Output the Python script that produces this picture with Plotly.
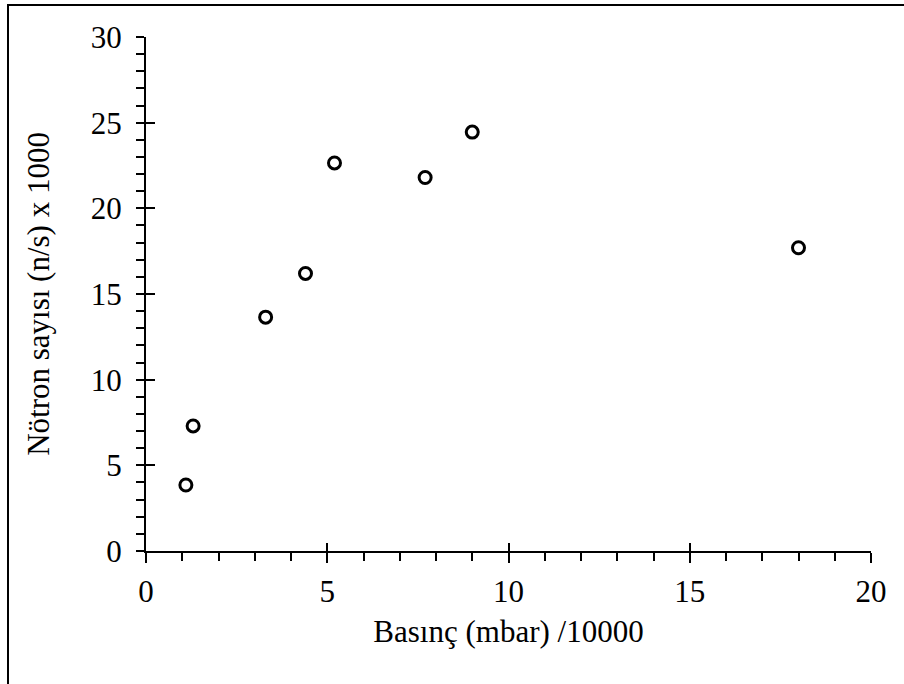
import plotly.graph_objects as go

# Data
pressure = [1.1, 1.3, 3.3, 4.4, 5.2, 7.7, 9.0, 18.0]
neutrons = [3.85, 7.3, 13.65, 16.2, 22.65, 21.8, 24.45, 17.7]

x_title = "Basınç (mbar) /10000"
y_title = "Nötron sayısı (n/s) x 1000"

W, H = 904, 684
ml, mr, mt, mb = 146, 33, 37, 133
pw, ph = W - ml - mr, H - mt - mb

FONT = "Liberation Serif"

fig = go.Figure()
fig.add_trace(go.Scatter(
    x=pressure, y=neutrons, mode="markers",
    marker=dict(symbol="circle-open", size=12, color="black",
                line=dict(width=3, color="black")),
    showlegend=False, cliponaxis=False,
))
# dummy trace for the overlay axes (inner half of major ticks)
fig.add_trace(go.Scatter(x=[], y=[], xaxis="x2", yaxis="y2", showlegend=False))

common = dict(showgrid=False, zeroline=False, color="black",
              tickfont=dict(family=FONT, size=31, color="black"))

fig.update_layout(
    width=W, height=H, autosize=False,
    margin=dict(l=ml, r=mr, t=mt, b=mb),
    paper_bgcolor="white", plot_bgcolor="white",
    font=dict(family=FONT, color="black"),
    xaxis=dict(range=[0, 20], dtick=5, tick0=0, ticks="outside", ticklen=10,
               tickwidth=2, showline=True, linewidth=2, linecolor="black",
               ticklabelstandoff=2,
               minor=dict(dtick=1, ticks="outside", ticklen=8, tickwidth=2, tickcolor="black"),
               title=dict(text=x_title, font=dict(family=FONT, size=31, color="black"), standoff=12),
               **common),
    yaxis=dict(range=[0, 30], dtick=5, tick0=0, ticks="outside", ticklen=8,
               tickwidth=2, showline=True, linewidth=2, linecolor="black",
               ticklabelstandoff=8,
               minor=dict(dtick=1, ticks="outside", ticklen=8, tickwidth=2, tickcolor="black"),
               title=dict(text=y_title, font=dict(family=FONT, size=31, color="black"), standoff=32),
               **common),
    xaxis2=dict(range=[0, 20], dtick=5, tick0=0, ticks="inside", ticklen=8, tickwidth=2,
                tickcolor="black", overlaying="x", anchor="y", side="bottom",
                showticklabels=False, showline=False, showgrid=False, zeroline=False),
    yaxis2=dict(range=[0, 30], dtick=5, tick0=0, ticks="inside", ticklen=9, tickwidth=2,
                tickcolor="black", overlaying="y", anchor="x", side="left",
                showticklabels=False, showline=False, showgrid=False, zeroline=False),
    shapes=[dict(type="rect", xref="paper", yref="paper",
                 x0=(8 - ml) / pw, x1=(W + 20 - ml) / pw,
                 y0=-(mb + 20) / ph, y1=1 + (mt - 5) / ph,
                 line=dict(color="black", width=2), fillcolor="rgba(0,0,0,0)")],
)

fig.write_html("out.html")
